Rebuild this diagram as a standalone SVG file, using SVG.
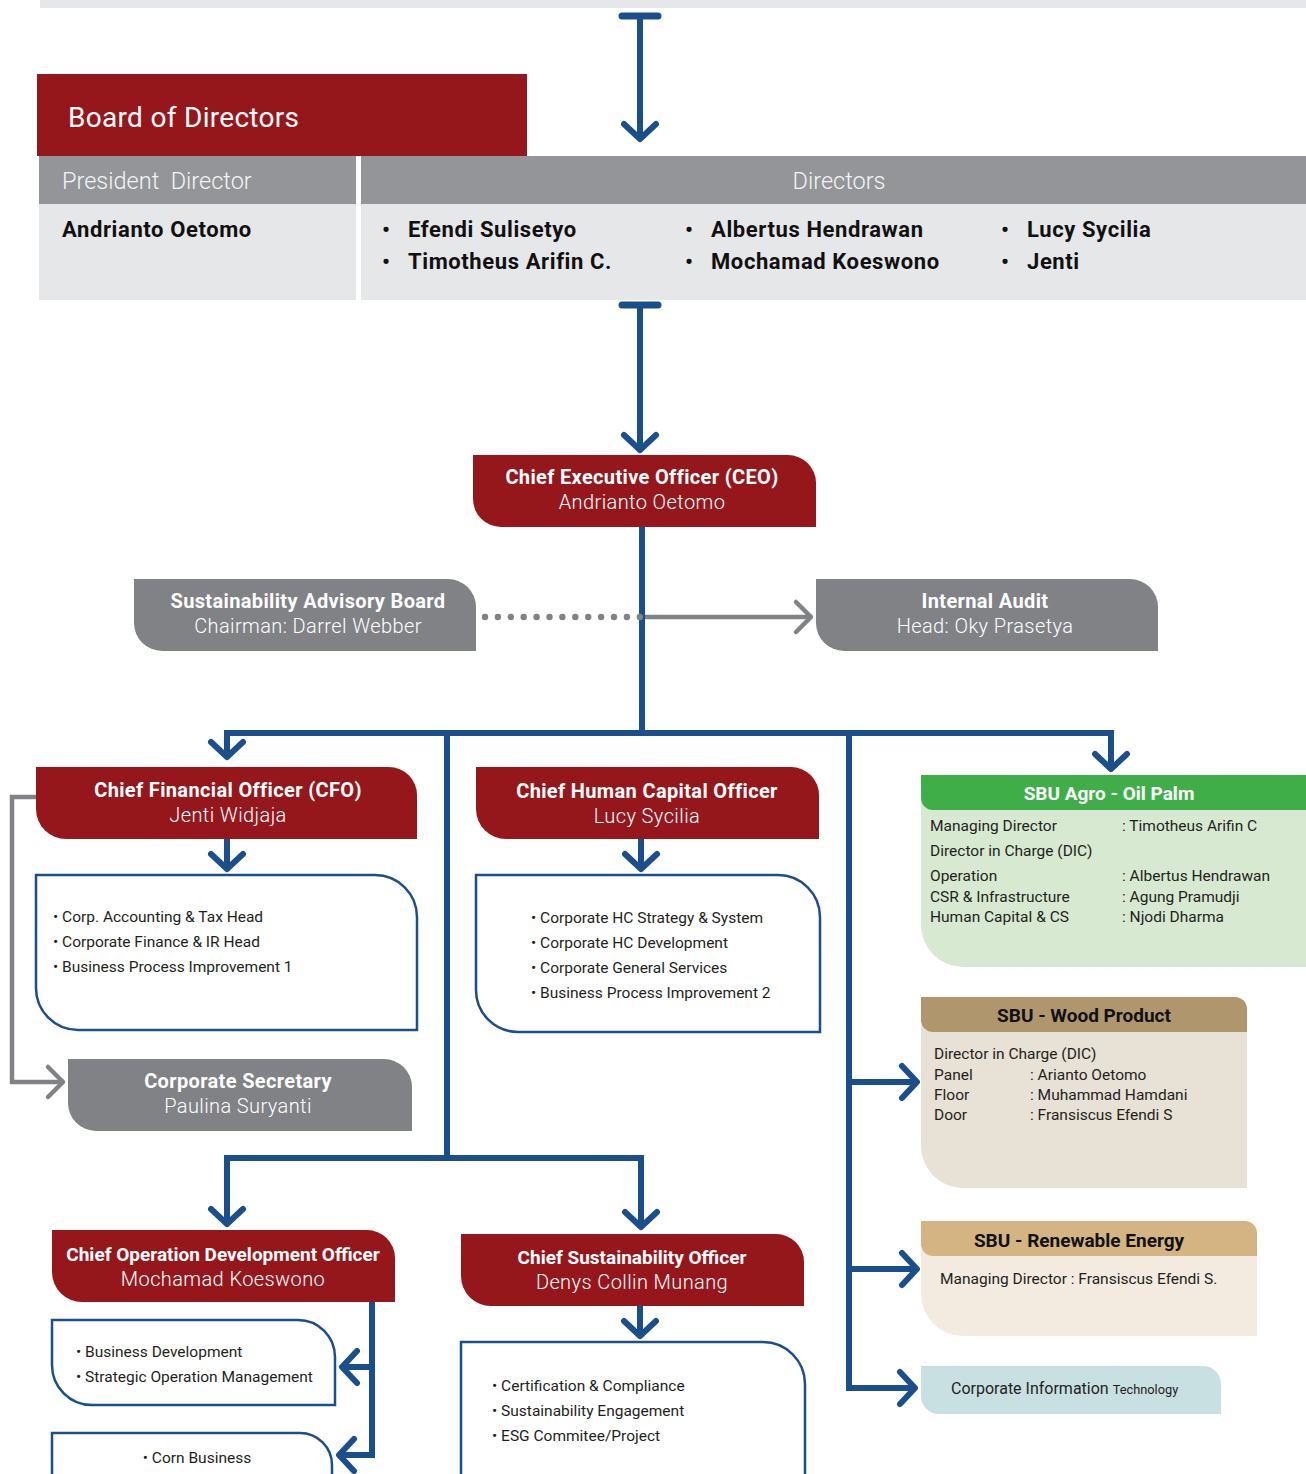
<svg xmlns="http://www.w3.org/2000/svg" width="1306" height="1474" viewBox="0 0 1306 1474">
<defs>
<style>
text{font-family:Roboto,"Liberation Sans",sans-serif;}
.t{font-weight:700;fill:#fff;font-size:20px;letter-spacing:0.35px;text-anchor:middle;}
.tc{font-size:19px;letter-spacing:0;}
.s{font-weight:300;fill:#fff;font-size:20px;letter-spacing:0.4px;text-anchor:middle;}
.it{font-size:15.5px;fill:#231f20;}
.red{fill:#95171c;}
.gray{fill:#808285;}
.list{fill:#fff;stroke:#1b4f8b;stroke-width:2.5;}
.bl{fill:none;stroke:#1b4f8b;stroke-width:6;stroke-linejoin:miter;}
.gl{fill:none;stroke:#808285;stroke-width:4.5;}
.bold{font-weight:700;font-size:22px;letter-spacing:0.6px;fill:#111;}
.hd{font-size:23.5px;font-weight:300;fill:#f4f4f4;}
.sbu{font-weight:700;font-size:19px;text-anchor:middle;}
</style>
<marker id="ab" markerUnits="userSpaceOnUse" orient="auto" overflow="visible" markerWidth="40" markerHeight="40">
<path d="M-16,-16 L-1,0 L-16,16" fill="none" stroke="#1b4f8b" stroke-width="6" stroke-linecap="round" stroke-linejoin="round"/>
</marker>
<marker id="ag" markerUnits="userSpaceOnUse" orient="auto" overflow="visible" markerWidth="40" markerHeight="40">
<path d="M-16,-15 L-1,0 L-16,15" fill="none" stroke="#808285" stroke-width="4.5" stroke-linecap="round" stroke-linejoin="round"/>
</marker>
</defs>

<rect x="40" y="0" width="1266" height="8" fill="#e6e7e8"/>

<g id="board">
<rect x="37" y="74" width="490" height="82" class="red"/>
<text x="68" y="127" font-size="28" letter-spacing="0.3" fill="#fff">Board of Directors</text>
<rect x="39" y="156" width="317" height="48" fill="#939598"/>
<rect x="39" y="204" width="317" height="96" fill="#e6e7e8"/>
<text x="62" y="189" class="hd">President&#160; Director</text>
<text x="62" y="237" class="bold">Andrianto Oetomo</text>
<rect x="361" y="156" width="945" height="48" fill="#939598"/>
<rect x="361" y="204" width="945" height="96" fill="#e6e7e8"/>
<text x="839" y="189" class="hd" text-anchor="middle">Directors</text>
<g class="bold">
<text x="382" y="237">•</text><text x="408" y="237">Efendi Sulisetyo</text>
<text x="382" y="269">•</text><text x="408" y="269">Timotheus Arifin C.</text>
<text x="685" y="237">•</text><text x="711" y="237">Albertus Hendrawan</text>
<text x="685" y="269">•</text><text x="711" y="269">Mochamad Koeswono</text>
<text x="1001" y="237">•</text><text x="1027" y="237">Lucy Sycilia</text>
<text x="1001" y="269">•</text><text x="1027" y="269">Jenti</text>
</g>
</g>

<g id="ceo">
<path class="red" d="M473,455 H788 A28,28 0 0 1 816,483 V527 H501 A28,28 0 0 1 473,499 Z"/>
<text x="642" y="484" class="t">Chief Executive Officer (CEO)</text>
<text x="642" y="509" class="s">Andrianto Oetomo</text>
</g>

<g id="advisory">
<path class="gray" d="M134,579 H448 A28,28 0 0 1 476,607 V651 H162 A28,28 0 0 1 134,623 Z"/>
<text x="308" y="608" class="t">Sustainability Advisory Board</text>
<text x="308" y="633" class="s">Chairman: Darrel Webber</text>
</g>

<g id="audit">
<path class="gray" d="M816,579 H1130 A28,28 0 0 1 1158,607 V651 H844 A28,28 0 0 1 816,623 Z"/>
<text x="985" y="608" class="t">Internal Audit</text>
<text x="985" y="633" class="s">Head: Oky Prasetya</text>
</g>

<g id="cfo">
<path class="red" d="M36,767 H389 A28,28 0 0 1 417,795 V839 H66 A30,30 0 0 1 36,809 Z"/>
<text x="228" y="797" class="t">Chief Financial Officer (CFO)</text>
<text x="228" y="822" class="s">Jenti Widjaja</text>
</g>
<g id="cfo-list">
<path class="list" d="M36,875 H375 A42,42 0 0 1 417,917 V1030 H78 A42,42 0 0 1 36,988 Z"/>
<text class="it" x="53" y="922">• Corp. Accounting &amp; Tax Head</text>
<text class="it" x="53" y="947">• Corporate Finance &amp; IR Head</text>
<text class="it" x="53" y="972">• Business Process Improvement 1</text>
</g>
<g id="corpsec">
<path class="gray" d="M68,1059 H384 A28,28 0 0 1 412,1087 V1131 H96 A28,28 0 0 1 68,1103 Z"/>
<text x="238" y="1088" class="t">Corporate Secretary</text>
<text x="238" y="1113" class="s">Paulina Suryanti</text>
</g>

<g id="chco">
<path class="red" d="M476,767 H791 A28,28 0 0 1 819,795 V839 H506 A30,30 0 0 1 476,809 Z"/>
<text x="647" y="798" class="t">Chief Human Capital Officer</text>
<text x="647" y="823" class="s">Lucy Sycilia</text>
</g>
<g id="chco-list">
<path class="list" d="M476,875 H778 A42,42 0 0 1 820,917 V1032 H518 A42,42 0 0 1 476,990 Z"/>
<text class="it" x="531" y="923" font-size="15.8">• Corporate HC Strategy &amp; System</text>
<text class="it" x="531" y="948" font-size="15.8">• Corporate HC Development</text>
<text class="it" x="531" y="973" font-size="15.8">• Corporate General Services</text>
<text class="it" x="531" y="998" font-size="15.8">• Business Process Improvement 2</text>
</g>

<g id="sbu-agro">
<path fill="#d8e9d2" d="M921,800 H1306 V967 H963 A42,42 0 0 1 921,925 Z"/>
<path fill="#3fae49" d="M921,775 H1306 V810 H933 A12,12 0 0 1 921,798 Z"/>
<text x="1109" y="800" class="sbu" fill="#fff">SBU Agro - Oil Palm</text>
<g class="it">
<text x="930" y="831">Managing Director</text><text x="1122" y="831">: Timotheus Arifin C</text>
<text x="930" y="856">Director in Charge (DIC)</text>
<text x="930" y="881">Operation</text><text x="1122" y="881">: Albertus Hendrawan</text>
<text x="930" y="902">CSR &amp; Infrastructure</text><text x="1122" y="902">: Agung Pramudji</text>
<text x="930" y="922">Human Capital &amp; CS</text><text x="1122" y="922">: Njodi Dharma</text>
</g>
</g>

<g id="sbu-wood">
<path fill="#e8e1d5" d="M921,1025 H1247 V1188 H963 A42,42 0 0 1 921,1146 Z"/>
<path fill="#b0966d" d="M921,997 H1235 A12,12 0 0 1 1247,1009 V1032 H933 A12,12 0 0 1 921,1020 Z"/>
<text x="1084" y="1022" class="sbu" fill="#111">SBU - Wood Product</text>
<g class="it">
<text x="934" y="1059">Director in Charge (DIC)</text>
<text x="934" y="1080">Panel</text><text x="1030" y="1080">: Arianto Oetomo</text>
<text x="934" y="1100">Floor</text><text x="1030" y="1100">: Muhammad Hamdani</text>
<text x="934" y="1120">Door</text><text x="1030" y="1120">: Fransiscus Efendi S</text>
</g>
</g>

<g id="sbu-renewable">
<path fill="#f3ebe0" d="M921,1250 H1257 V1336 H963 A42,42 0 0 1 921,1294 Z"/>
<path fill="#d5b483" d="M921,1221 H1245 A12,12 0 0 1 1257,1233 V1256 H933 A12,12 0 0 1 921,1244 Z"/>
<text x="1079" y="1247" class="sbu" fill="#111">SBU - Renewable Energy</text>
<text class="it" x="940" y="1284">Managing Director : Fransiscus Efendi S.</text>
</g>

<g id="corp-it">
<path fill="#c9e0e3" d="M921,1366 H1203 A18,18 0 0 1 1221,1384 V1414 H939 A18,18 0 0 1 921,1396 Z"/>
<text x="951" y="1394" font-size="16" fill="#231f20">Corporate Information <tspan font-size="12.8">Technology</tspan></text>
</g>

<g id="codo">
<path class="red" d="M52,1230 H367 A28,28 0 0 1 395,1258 V1302 H82 A30,30 0 0 1 52,1272 Z"/>
<text x="223" y="1261" class="t tc">Chief Operation Development Officer</text>
<text x="223" y="1286" class="s">Mochamad Koeswono</text>
</g>
<g id="codo-list1">
<path class="list" d="M52,1320 H298 A37,37 0 0 1 335,1357 V1405 H92 A40,40 0 0 1 52,1365 Z"/>
<text class="it" x="76" y="1357">• Business Development</text>
<text class="it" x="76" y="1382">• Strategic Operation Management</text>
</g>
<g id="codo-list2">
<path class="list" d="M52,1480 V1433 H300 A32,32 0 0 1 332,1465 V1480"/>
<text class="it" x="197" y="1463" text-anchor="middle">• Corn Business</text>
</g>

<g id="cso">
<path class="red" d="M461,1234 H776 A28,28 0 0 1 804,1262 V1306 H491 A30,30 0 0 1 461,1276 Z"/>
<text x="632" y="1264" class="t tc">Chief Sustainability Officer</text>
<text x="632" y="1289" class="s">Denys Collin Munang</text>
</g>
<g id="cso-list">
<path class="list" d="M461,1480 V1342 H763 A42,42 0 0 1 805,1384 V1480"/>
<text class="it" x="492" y="1391">• Certification &amp; Compliance</text>
<text class="it" x="492" y="1416">• Sustainability Engagement</text>
<text class="it" x="492" y="1441">• ESG Commitee/Project</text>
</g>

<g id="connectors">
<path d="M622,16 H658" stroke="#1b4f8b" stroke-width="7" stroke-linecap="round" fill="none"/>
<path class="bl" d="M640,16 V140" marker-end="url(#ab)"/>
<path d="M622,305 H658" stroke="#1b4f8b" stroke-width="7" stroke-linecap="round" fill="none"/>
<path class="bl" d="M640,305 V451" marker-end="url(#ab)"/>
<path class="bl" d="M642,527 V733"/>
<path class="bl" d="M227,758 V733 H1111 V770" marker-end="url(#ab)"/>
<path class="bl" d="M227,733 V758" marker-end="url(#ab)"/>
<path class="bl" d="M447,733 V1158"/>
<path class="bl" d="M227,1225 V1158 H641 V1228" marker-end="url(#ab)"/>
<path class="bl" d="M641,1158 H227 V1225" marker-end="url(#ab)"/>
<path class="bl" d="M849,733 V1388 H916" marker-end="url(#ab)"/>
<path class="bl" d="M849,1082 H918" marker-end="url(#ab)"/>
<path class="bl" d="M849,1269 H918" marker-end="url(#ab)"/>
<path class="bl" d="M227,839 V870" marker-end="url(#ab)"/>
<path class="bl" d="M641,839 V870" marker-end="url(#ab)"/>
<path class="bl" d="M640,1306 V1337" marker-end="url(#ab)"/>
<path class="bl" d="M372,1302 V1455 H338" marker-end="url(#ab)"/>
<path class="bl" d="M372,1367 H341" marker-end="url(#ab)"/>
<path class="gl" d="M645,617 H812" marker-end="url(#ag)"/>
<g fill="#808285">
<circle cx="485" cy="617" r="3.2"/><circle cx="497.9" cy="617" r="3.2"/><circle cx="510.8" cy="617" r="3.2"/><circle cx="523.7" cy="617" r="3.2"/><circle cx="536.6" cy="617" r="3.2"/><circle cx="549.5" cy="617" r="3.2"/><circle cx="562.4" cy="617" r="3.2"/><circle cx="575.3" cy="617" r="3.2"/><circle cx="588.2" cy="617" r="3.2"/><circle cx="601.1" cy="617" r="3.2"/><circle cx="614" cy="617" r="3.2"/><circle cx="626.9" cy="617" r="3.2"/><circle cx="639.8" cy="617" r="3.2"/>
</g>
<path class="gl" d="M36,797 H12 V1082 H64" marker-end="url(#ag)"/>
</g>
</svg>
